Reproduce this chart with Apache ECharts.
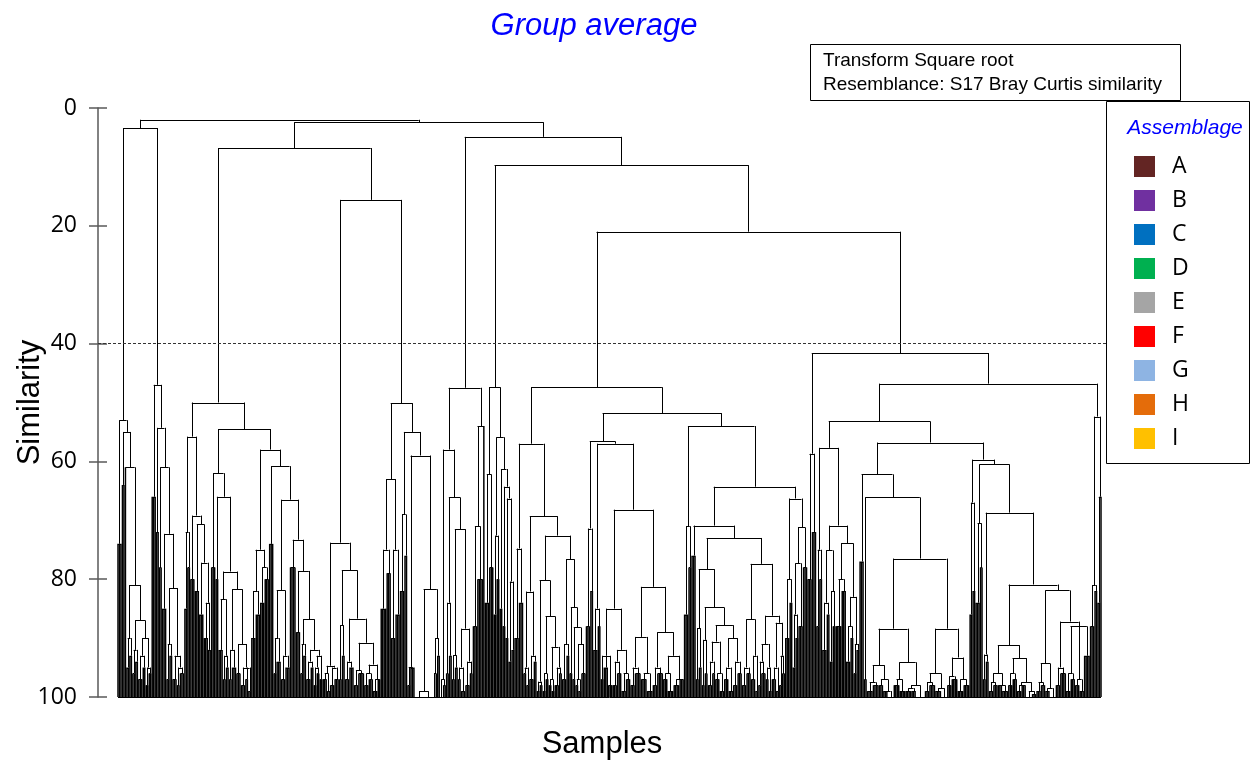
<!DOCTYPE html>
<html>
<head>
<meta charset="utf-8">
<script src="https://cdn.jsdelivr.net/npm/echarts@6/dist/echarts.min.js"></script>
<style>
  html, body { margin: 0; padding: 0; background: #fff; }
  #main { width: 1253px; height: 764px; }
</style>
</head>
<body>
<div id="main"></div>
<script>
// Legend groups
var assemblages = ['A', 'B', 'C', 'D', 'E', 'F', 'G', 'H', 'I'];
var assemblageColors = ['#632523', '#7030A0', '#0070C0', '#00B050', '#A5A5A5', '#FF0000', '#8EB4E3', '#E46C0A', '#FFC000'];
var cutLevel = 40;

// Dendrogram clusters, left to right. "(a,b)h" = merge at similarity h,
// "k/h" = k samples joined at h, "o" = a single sample.
var L1 = "(3/74,(2/64,(o,((2/95,2/93)90,((2/96,2/94)92,((3/97,2/95)93,(2/98,2/96)95)90)87)81)61)55)53";
var L2 = "(3/66,(2/72,(2/78,(3/85,((2/97,2/93)91,(3/97,(2/98,3/96)95)93)81.5)72.3)61)54.3)47";
var P56 = "((2/85,2/78)72,(3/80,(3/82,(3/86,(3/90,2/92)84)77.2)70.7)69.2)55.8";
var Q62 = "(3/78,(2/80,((3/92,(2/97,2/95)93)83.4,((2/97,3/95)92,(3/96,(3/98,2/97,2/99)95)91)81.7)78.7)66)62";
var Q58 = "(((3/90,3/86)82,(3/84,3/80)78)75,(3/74,(((2/96,3/94)90,(3/97,3/95)93)81.9,(4/78,(3/89,((2/96,2/93)91,((3/97,2/95)94,((2/98,2/96)95,2/97)93)92)86.8)78.6)73.3)66.5)60.8)58";
var C342 = "(((3/97,2/99)96,(3/98,3/97)95)94.7,((2/97,2/93)87.8,((3/97,3/95)94,((3/98,4/96)95.5,((3/98,3/97)96,(3/99,2/97)97)94.5)90.8)86.7)78.5)73.8";
var C402 = "(((4/85,3/79)75,(3/90,3/86)75)63,((3/82,2/76)69,((2/98,3/95)94.9,((6/100,6/100)99,((2/100,o)96,2/93)90)81.7)59)55)50.1";
var T58 = "((2/100,2/98)97,((2/96,2/93)84,((2/97,2/95)92.9,((2/97,3/99)95,(3/98,2/96)94)88.4)71.5)66.1)58";
var C497 = "((3/84,3/78)62.2,((2/86,2/80)72.6,(2/85,(2/88,(2/90,(2/94,2/92)80.4)66.3)64.3)61.3)55.9)47.4";
var W57 = "((3/90,3/84)74.8,(((2/96,2/98)95,(3/97,2/94)93)82.1,(((2/99,2/98)97.4,((2/99,2/97)96,((2/98,2/99)97,(3/98,2/96)95)91.5)86.3)80.2,((3/97,2/93)91,(2/96,(2/97,((2/98,2/99)97,3/96)91)88.2)84.8)76.6)72.6)69.3)57";
var X56 = "((3/88,2/82)71.4,((3/92,2/88)85,(((2/97,3/95,3/98)93,((3/98,3/96)94,(3/99,3/97)96)92)85,(((3/98,4/96)95,(4/97,4/99)96)89.8,((3/98,4/96)95,((3/97,4/99)96,(4/98,3/97)97)93)89)81.3)68.2)57)56.6";
var X78 = "((2/97,2/95)88.3,((2/98,2/96)90.3,(((3/98,2/96)94,(3/97,3/99)96)90.6,((3/97,3/99)95,(3/98,3/96)94)90)87.8)84.8)78.3";
var X77 = "(((3/98,3/96)95,(3/97,2/99)93)86.8,(((2/98,3/96)94,(2/97,2/99)95)91,((3/97,2/99)95,(2/98,2/96)93)87.4)86.2)77.4";
var X66 = "((3/90,2/84)80,(((2/95,2/90)86,3/88)77.3,3/78)71.2)66.3";
var C817 = "(3/80,3/72)58.7";
var Y57 = "((2/88,2/80)75,(((3/92,2/86)84,(2/94,2/88)82)75.1,((4/88,3/82)80,((3/94,2/90)88,(2/96,2/92)91)83)73.9)70.9)57.7";
var Y88a = "(((4/99,4/98)97.5,(3/98,(3/99,4/100)99)97)94.6,((4/98,4/99)97,((4/99,3/99)98.5,6/100)98)94.1)88.4";
var Y88b = "(((3/99,4/98)97.5,(4/99,4/100)98.5)96,((3/98,4/97)96.5,(4/99,4/98)97)93.3)88.4";
var Y91 = "(((3/99,3/98)97.5,(3/98,4/99)98)96,((3/98,3/97)96,((3/99,3/98)98,(4/100,3/99.5)99)97.5)93.4)91.2";
var Y81 = "(((3/99,3/98)97.5,(3/99,4/100)98.5)94.3,((3/98,4/96)95,((3/99,3/97)96,(3/98,3/99)97,4/93)88)87.2)81.9";
var Y52 = "((3/88,2/82)81,(2/84,o)66)52.4";

// upper merges
var C218 = "(" + P56 + ",(" + Q62 + "," + Q58 + ")54.5)50";
var C469 = "(" + T58 + ",((3/88,4/80)71,o)54)47.5";
var X54 = "((3/86,2/78)71,((3/76,(" + X78 + "," + X77 + ")73)70.9," + X66 + ")64.3)54";
var C600 = "(" + W57 + ",(" + X56 + "," + X54 + ")51.8)47.4";
var Y59 = "((2/86,2/82)67,((3/84,2/78)70.5,((2/97,2/94)92.8,(" + Y91 + "," + Y81 + ")80.9)68.7)60.5)59.7";
var Y62 = "(3/77,(2/97,(" + Y88a + "," + Y88b + ")76.5)66.1)62.2";
var C990 = "((" + Y57 + ",(" + Y62 + "," + Y59 + ")56.8)53.2," + Y52 + ")46.8";
var C904 = "(" + C817 + "," + C990 + ")41.6";
var treeText = "((" + L1 + "," + L2 + ")3.4,((" + C218 + ",(" + C342 + "," + C402 + ")15.6)6.8,(" + C469 +
  ",(" + C497 + ",(" + C600 + "," + C904 + ")21)9.7)4.9)2.4)2";

function parseTree(str) {
  var s = str.replace(/\s+/g, '');
  var pos = 0;
  function num() {
    var m = /^[0-9.]+/.exec(s.slice(pos));
    pos += m[0].length;
    return parseFloat(m[0]);
  }
  function item() {
    if (s[pos] === '(') {
      pos++;
      var kids = [item()];
      while (s[pos] === ',') { pos++; kids.push(item()); }
      pos++;
      return { kids: kids, h: num() };
    }
    if (s[pos] === 'o') { pos++; return { n: 1, h: 100 }; }
    var n = num();
    pos++;
    return { n: n, h: num() };
  }
  return item();
}

// segments: [x1, y1, x2, y2, isLeafLine]
var segs = [];
var leaf = 0;
function place(node) {
  if (node.kids) {
    var ps = node.kids.map(place);
    ps.forEach(function (p) {
      if (p.h !== node.h) segs.push([p.c, p.h, p.c, node.h, p.leaf ? 1 : 0]);
    });
    var a = ps[0].c, b = ps[ps.length - 1].c;
    segs.push([a, node.h, b, node.h, 0]);
    return { c: (a + b) / 2, h: node.h };
  }
  if (node.n === 1) return { c: leaf++, h: 100, leaf: true };
  var x0 = leaf;
  for (var i = 0; i < node.n; i++) {
    if (node.h < 100) segs.push([leaf, 100, leaf, node.h, 1]);
    leaf++;
  }
  segs.push([x0, node.h, leaf - 1, node.h, 0]);
  return { c: (x0 + leaf - 1) / 2, h: node.h };
}
place(parseTree(treeText));
var nLeaves = leaf;
segs.push([0, 100, nLeaves - 1, 100, 0]);

// leaves run from x=118 to x=1101, grid from 98 to 1106
var ppu = 983 / (nLeaves - 1);

var myChart = echarts.init(document.getElementById('main'));
var legendSeries = assemblages.map(function (name, i) {
  return { name: name, type: 'line', data: [], itemStyle: { color: assemblageColors[i] } };
});

myChart.setOption({
  animation: false,
  title: {
    text: 'Group average',
    left: 589,
    top: 6,
    textAlign: 'center',
    textStyle: { color: '#0000FF', fontStyle: 'italic', fontWeight: 'normal', fontSize: 31, fontFamily: 'Liberation Sans' }
  },
  legend: {
    data: assemblages,
    orient: 'vertical',
    left: 1134,
    top: 155,
    padding: 0,
    itemWidth: 21,
    itemHeight: 21,
    itemGap: 11,
    icon: 'rect',
    selectedMode: false,
    textStyle: { fontSize: 23, color: '#000', fontFamily: 'Open Sans', width: 20, align: 'center', padding: [0, 0, 0, 12] }
  },
  grid: { left: 98, right: 147, top: 108, bottom: 67, containLabel: false, outerBoundsMode: 'none' },
  xAxis: {
    type: 'value',
    min: -20 / ppu,
    max: nLeaves - 1 + 5 / ppu,
    name: 'Samples',
    nameLocation: 'middle',
    nameGap: 32,
    nameMoveOverlap: false,
    nameTextStyle: { fontSize: 31, color: '#000', fontFamily: 'Liberation Sans' },
    axisLine: { show: false, onZero: false },
    axisTick: { show: false },
    axisLabel: { show: false },
    splitLine: { show: false }
  },
  yAxis: [{
    type: 'value',
    inverse: true,
    min: 0,
    max: 100,
    interval: 20,
    offset: 0,
    name: 'Similarity',
    nameLocation: 'middle',
    nameRotate: 90,
    nameGap: 52,
    nameMoveOverlap: false,
    nameTextStyle: { fontSize: 31, color: '#000', fontFamily: 'Liberation Sans' },
    axisLine: { show: true, onZero: false, lineStyle: { color: '#595959', width: 1.5 } },
    axisTick: { show: true, length: 9, lineStyle: { color: '#595959', width: 1.5 } },
    axisLabel: { margin: 21, fontSize: 23, color: '#000', fontFamily: 'Open Sans', padding: [0, 0, 8, 0] },
    splitLine: { show: false }
  }, {
    type: 'value',
    inverse: true,
    min: 0,
    max: 100,
    interval: 20,
    position: 'left',
    offset: 0,
    axisLine: { show: false, onZero: false },
    axisTick: { show: true, inside: true, length: 9, lineStyle: { color: '#595959', width: 1.5 } },
    axisLabel: { show: false },
    splitLine: { show: false }
  }],
  graphic: [
    { type: 'rect', shape: { x: 810.5, y: 44.5, width: 370, height: 56 }, style: { fill: '#fff', stroke: '#000', lineWidth: 1 } },
    { type: 'text', x: 823, y: 61, style: { text: 'Transform Square root', fontSize: 19, fontFamily: 'Liberation Sans', fill: '#000', verticalAlign: 'middle' } },
    { type: 'text', x: 823, y: 85, style: { text: 'Resemblance: S17 Bray Curtis similarity', fontSize: 19, fontFamily: 'Liberation Sans', fill: '#000', verticalAlign: 'middle' } },
    { type: 'rect', shape: { x: 1106.5, y: 101.5, width: 143, height: 362 }, style: { fill: 'none', stroke: '#000', lineWidth: 1 } },
    { type: 'text', x: 1185, y: 128, style: { text: 'Assemblage', fontSize: 21, fontStyle: 'italic', fontFamily: 'Liberation Sans', fill: '#0000FF', align: 'center', verticalAlign: 'middle' } }
  ],
  series: [{
    type: 'custom',
    coordinateSystem: 'cartesian2d',
    progressive: 0,
    encode: { x: [0, 2], y: [1, 3] },
    data: segs,
    renderItem: function (params, api) {
      var p1 = api.coord([api.value(0), api.value(1)]);
      var p2 = api.coord([api.value(2), api.value(3)]);
      var x1 = p1[0], y1 = p1[1], x2 = p2[0], y2 = p2[1];
      if (api.value(4) === 1) {
        return { type: 'line', shape: { x1: x1, y1: y1, x2: x2, y2: y2 }, style: { stroke: '#000', lineWidth: 1.5 } };
      }
      if (x1 === x2) { x1 = x2 = Math.round(x1) + 0.5; }
      if (y1 === y2) { y1 = y2 = Math.round(y1) + 0.5; }
      return { type: 'line', shape: { x1: x1, y1: y1, x2: x2, y2: y2 }, style: { stroke: '#000', lineWidth: 1 } };
    },
    markLine: {
      silent: true,
      symbol: 'none',
      label: { show: false },
      lineStyle: { type: [3, 2], color: '#333', width: 1 },
      data: [{ yAxis: cutLevel }]
    }
  }].concat(legendSeries)
});
</script>
</body>
</html>
